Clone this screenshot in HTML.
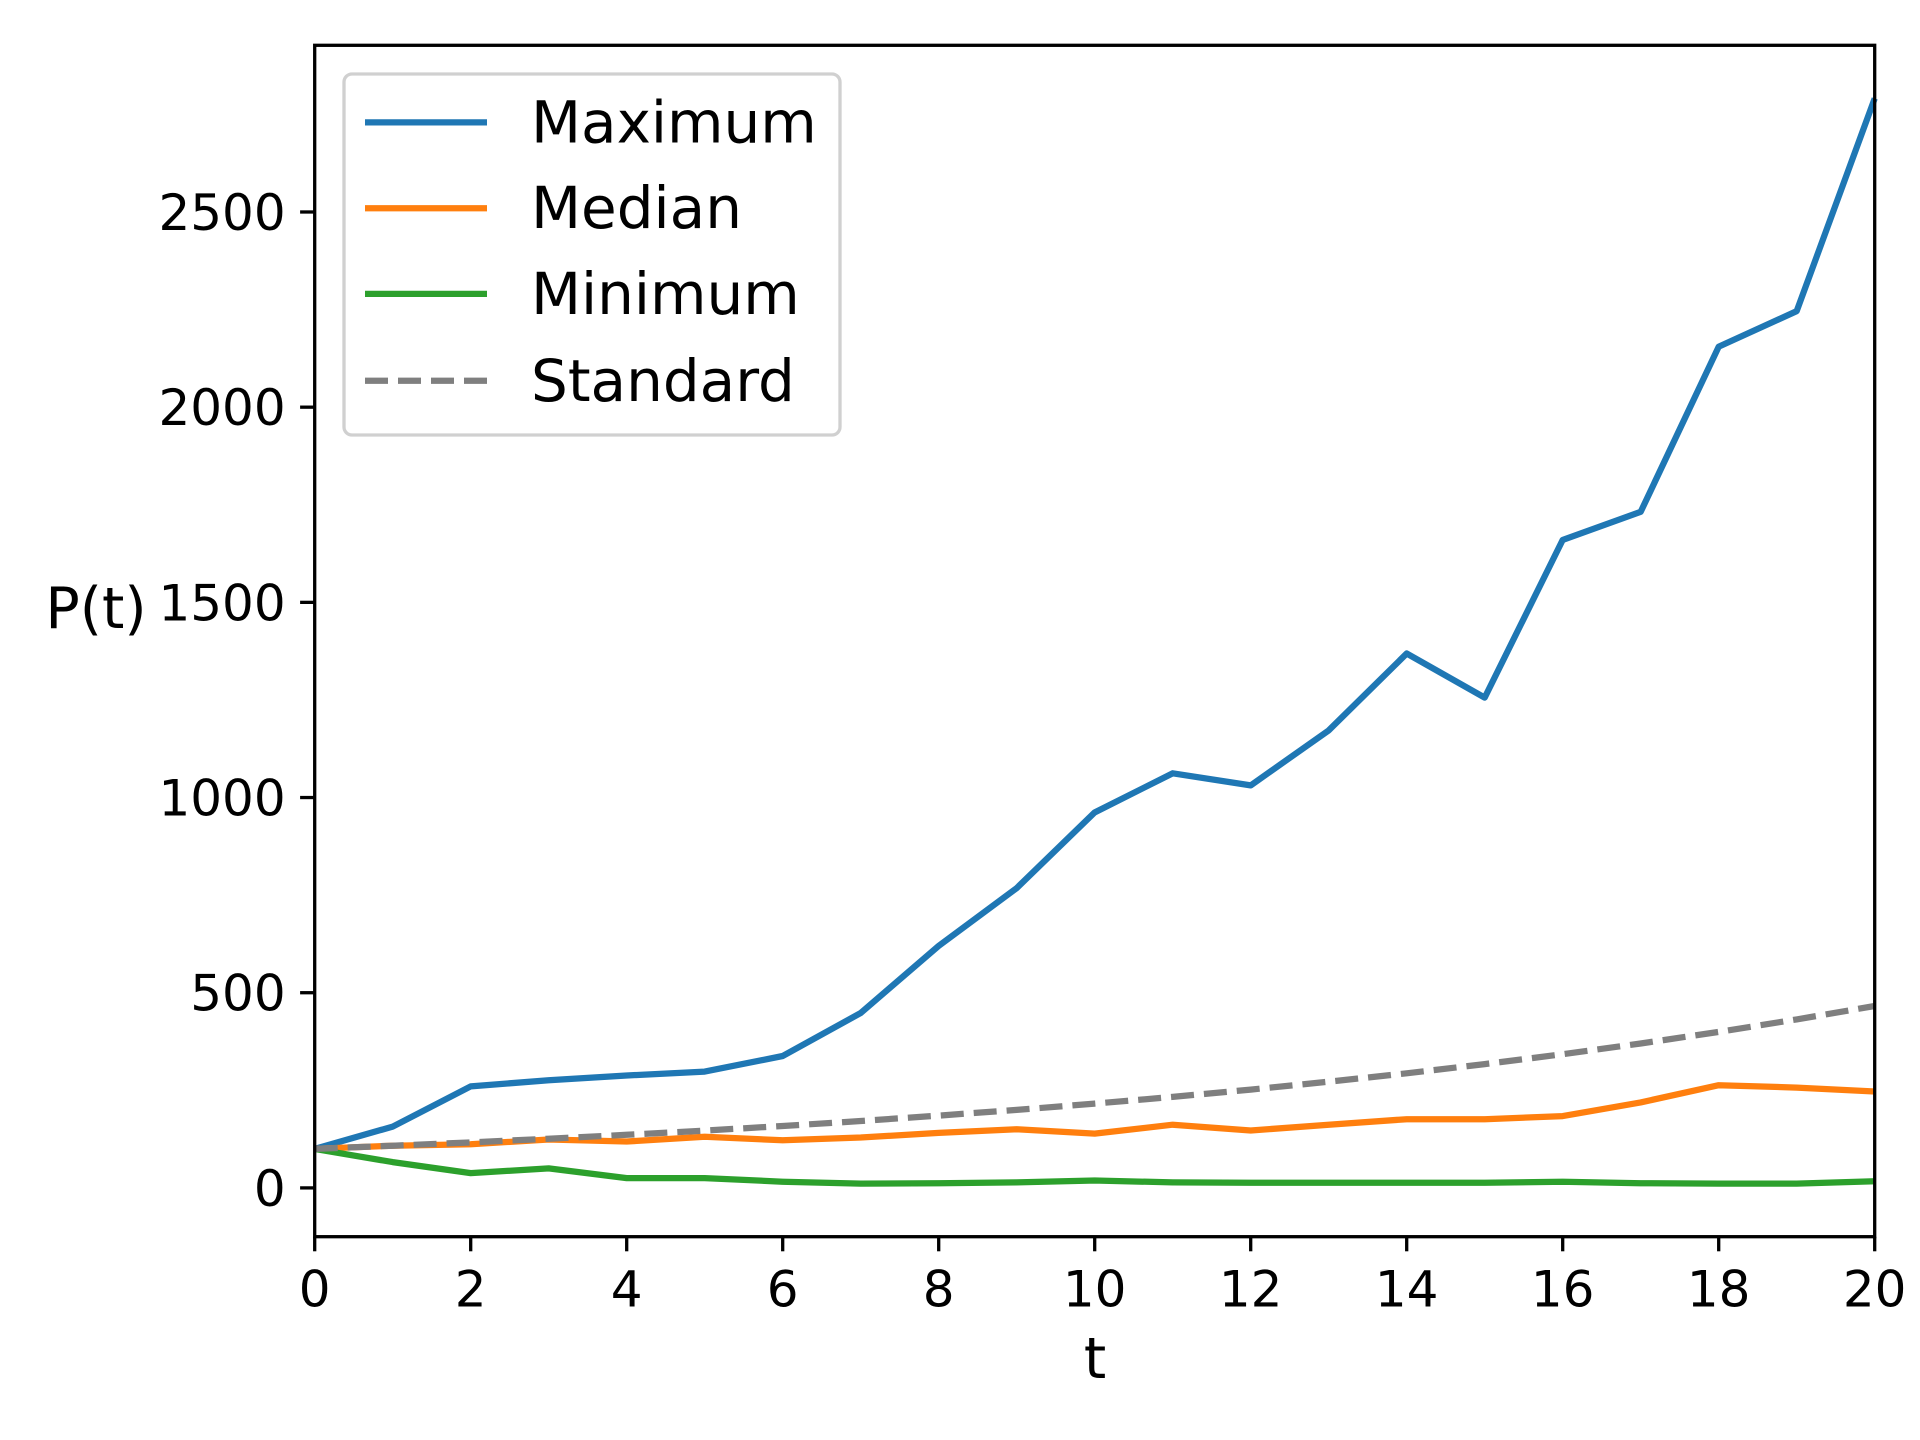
<!DOCTYPE html>
<html><head><meta charset="utf-8"><style>
html,body{margin:0;padding:0;background:#fff;}
svg{display:block;font-family:"DejaVu Sans","Liberation Sans",sans-serif;}
</style></head>
<body>
<svg id="chart" width="1920" height="1440" viewBox="0 0 1920 1440" xmlns="http://www.w3.org/2000/svg">
<rect width="1920" height="1440" fill="#fff"/>
<g id="plot"></g>
<g id="axes"></g>
<g id="legend"></g>
</svg>
<script>
const tValues = [0,1,2,3,4,5,6,7,8,9,10,11,12,13,14,15,16,17,18,19,20];
const maxValues = [100,157,260,276,288,298,338,448,620,768,962,1062,1031,1172,1369,1256,1660,1732,2155,2246,2791];
const medianValues = [100,108,112,124,119,131,122,129,141,150,139,162,147,162,176,176,184,219,263,257,247];
const minValues = [100,66,38,50,25,25,16,11,12,14,19,14,13,13,13,13,16,12,11,11,17];
const standardValues = [100,108,116.6,126,136,146.9,158.7,171.4,185.1,199.9,215.9,233.2,251.8,272,293.7,317.2,342.6,370,399.6,431.6,466.1];
const xTicks = [0,2,4,6,8,10,12,14,16,18,20];
const yTicks = [0,500,1000,1500,2000,2500];
const legendLabels = ["Maximum","Median","Minimum","Standard"];

const NS = "http://www.w3.org/2000/svg";
const L = 314.7, R = 1874.7, T = 45.3, B = 1236.7;
const xMin = 0, xMax = 20, yMin = -125, yMax = 2927;
function xs(v){ return L + (v - xMin) / (xMax - xMin) * (R - L); }
function ys(v){ return B - (v - yMin) / (yMax - yMin) * (B - T); }
function mk(tag, attrs, parent){ const e = document.createElementNS(NS, tag); for (const k in attrs) e.setAttribute(k, attrs[k]); parent.appendChild(e); return e; }

const plot = document.getElementById('plot');
const axes = document.getElementById('axes');
const legend = document.getElementById('legend');

const series = [
  {vals: maxValues, color: '#1f77b4', dash: null, name: 'series-maximum'},
  {vals: medianValues, color: '#ff7f0e', dash: null, name: 'series-median'},
  {vals: minValues, color: '#2ca02c', dash: null, name: 'series-minimum'},
  {vals: standardValues, color: '#7f7f7f', dash: '23,10', name: 'series-standard'}
];
series.forEach(s => {
  const pts = s.vals.map((v, i) => xs(tValues[i]).toFixed(1) + ',' + ys(v).toFixed(1)).join(' ');
  const pl = mk('polyline', {points: pts, fill: 'none', stroke: s.color, 'stroke-width': 6.25, 'stroke-linejoin': 'round'}, plot);
  if (s.dash) pl.setAttribute('stroke-dasharray', s.dash);
  
  
});

const frame = mk('rect', {x: L, y: T, width: R - L, height: B - T, fill: 'none', stroke: '#000', 'stroke-width': 3.3}, axes);



xTicks.forEach(v => {
  const x = xs(v);
  const tk = mk('line', {x1: x, x2: x, y1: B, y2: B + 14.6, stroke: '#000', 'stroke-width': 3.3}, axes);
  
  
  const tx = mk('text', {x: x, y: B + 70, 'text-anchor': 'middle', 'font-size': 50, fill: '#000'}, axes);
  tx.textContent = v;
  
  
});
yTicks.forEach(v => {
  const y = ys(v);
  const tk = mk('line', {x1: L - 14.6, x2: L, y1: y, y2: y, stroke: '#000', 'stroke-width': 3.3}, axes);
  
  
  const tx = mk('text', {x: L - 29, y: y + 18, 'text-anchor': 'end', 'font-size': 50, fill: '#000'}, axes);
  tx.textContent = v;
  
  
});
const xl = mk('text', {x: 1095, y: 1378, 'text-anchor': 'middle', 'font-size': 57, fill: '#000'}, axes);
xl.textContent = 't';


const yl = mk('text', {x: 96, y: 628, 'text-anchor': 'middle', 'font-size': 57, fill: '#000'}, axes);
yl.textContent = 'P(t)';



const box = mk('rect', {x: 344, y: 74, width: 496, height: 361, rx: 8, fill: '#fff', 'fill-opacity': 0.8, stroke: '#d0d0d0', 'stroke-width': 3.3}, legend);


const ly = [122.4, 208.2, 293.9, 380.8];
series.forEach((s, i) => {
  const ln = mk('line', {x1: 365, x2: 487, y1: ly[i], y2: ly[i], stroke: s.color, 'stroke-width': 6.25}, legend);
  if (s.dash) ln.setAttribute('stroke-dasharray', '23,10');
  
  
  const tx = mk('text', {x: 531, y: ly[i] + 20, 'font-size': 58, fill: '#000'}, legend);
  tx.textContent = legendLabels[i];
  
  
});
</script>
</body></html>
